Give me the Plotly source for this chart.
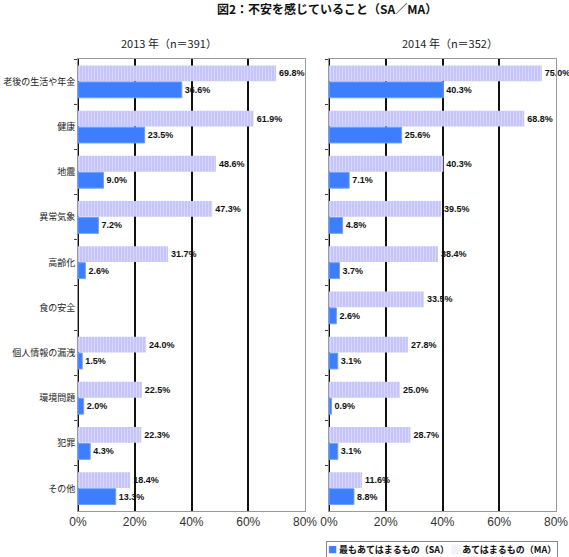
import plotly.graph_objects as go

categories = ["老後の生活や年金", "健康", "地震", "異常気象", "高齢化", "食の安全",
              "個人情報の漏洩", "環境問題", "犯罪", "その他"]
ma_2013 = [69.8, 61.9, 48.6, 47.3, 31.7, None, 24.0, 22.5, 22.3, 18.4]
sa_2013 = [36.6, 23.5, 9.0, 7.2, 2.6, None, 1.5, 2.0, 4.3, 13.3]
ma_2014 = [75.0, 68.8, 40.3, 39.5, 38.4, 33.5, 27.8, 25.0, 28.7, 11.6]
sa_2014 = [40.3, 25.6, 7.1, 4.8, 3.7, 2.6, 3.1, 0.9, 3.1, 8.8]
x_ticks = [0, 20, 40, 60, 80]
x_tick_labels = ["0%", "20%", "40%", "60%", "80%"]
grid_vals = [20, 40, 60]

title_text = "図2：不安を感じていること（SA／MA）"
panel_titles = ["2013 年（n＝391）", "2014 年（n＝352）"]
sa_name = "最もあてはまるもの（SA）"
ma_name = "あてはまるもの（MA）"

JP = "Noto Sans CJK JP, sans-serif"
NUM = "Liberation Sans, Arial, sans-serif"

MA_BG = "#c3c3fa"
MA_FG = "#ececff"
SA_COL = "#3d7eff"
SA_LINE = "#6e9fff"

fig = go.Figure()


def add_pair(ma, sa, xa, ya):
    fig.add_trace(go.Bar(
        x=ma, y=categories, orientation="h", name=ma_name,
        xaxis=xa, yaxis=ya, showlegend=False,
        marker=dict(color=MA_BG, line=dict(width=0),
                    pattern=dict(shape="|", bgcolor=MA_BG, fgcolor=MA_FG,
                                 size=3, solidity=0.4)),
        texttemplate="%{x:.1f}%", textposition="outside", cliponaxis=False,
        textfont=dict(family=NUM, size=9, color="#111111", weight="bold"),
    ))
    fig.add_trace(go.Bar(
        x=sa, y=categories, orientation="h", name=sa_name,
        xaxis=xa, yaxis=ya, showlegend=False,
        marker=dict(color=SA_COL, line=dict(width=1, color=SA_LINE)),
        texttemplate="%{x:.1f}%", textposition="outside", cliponaxis=False,
        textfont=dict(family=NUM, size=9, color="#111111", weight="bold"),
    ))


add_pair(ma_2013, sa_2013, "x", "y")
add_pair(ma_2014, sa_2014, "x2", "y2")

W, H = 569, 557
y_dom = [1 - 511 / H, 1 - 59 / H]
xd1 = [78 / W, 305 / W]
xd2 = [329 / W, 556 / W]

xcommon = dict(range=[0, 80], tickvals=x_ticks, ticktext=x_tick_labels,
               showgrid=False,
               minor=dict(tickvals=grid_vals, showgrid=True, gridcolor="#111111",
                          gridwidth=1.5, ticks=""),
               zeroline=True, zerolinecolor="#111111", zerolinewidth=1.5,
               showline=True, linecolor="#9a9a9a", linewidth=1, mirror=True,
               ticks="", tickfont=dict(family=NUM, size=12, color="#333333"),
               automargin=False, fixedrange=True)
ycommon = dict(type="category", categoryorder="array", categoryarray=categories,
               autorange="reversed", showgrid=False, zeroline=False,
               showline=True, linecolor="#9a9a9a", linewidth=1, mirror=True,
               ticks="outside", tickson="boundaries", ticklen=3,
               tickcolor="#444444", automargin=False, fixedrange=True)

legend_text = (f"<span style='color:{SA_COL}'>■</span> {sa_name} "
               f"<span style='color:{MA_BG}'>▒</span> {ma_name}")

fig.update_layout(
    width=W, height=H,
    margin=dict(l=0, r=0, t=0, b=0, autoexpand=False),
    paper_bgcolor="white", plot_bgcolor="white",
    barmode="group", bargap=0.27, bargroupgap=0.04,
    xaxis=dict(domain=xd1, anchor="y", **xcommon),
    yaxis=dict(domain=y_dom, anchor="x", showticklabels=True,
               tickfont=dict(family=JP, size=9, color="#222222"), **ycommon),
    xaxis2=dict(domain=xd2, anchor="y2", **xcommon),
    yaxis2=dict(domain=y_dom, anchor="x2", showticklabels=False, **ycommon),
    showlegend=False,
    annotations=[
        dict(text=title_text, x=327 / W, y=1 - 9 / H, xref="paper", yref="paper",
             showarrow=False, xanchor="center", yanchor="middle",
             font=dict(family=JP, size=12, color="#111111", weight="bold")),
        dict(text=panel_titles[0], x=169 / W, y=1 - 43 / H, xref="paper", yref="paper",
             showarrow=False, xanchor="center", yanchor="middle",
             font=dict(family=JP, size=11, color="#222222")),
        dict(text=panel_titles[1], x=450 / W, y=1 - 43 / H, xref="paper", yref="paper",
             showarrow=False, xanchor="center", yanchor="middle",
             font=dict(family=JP, size=11, color="#222222")),
        dict(text=legend_text, x=558 / W, y=1 - 549 / H, xref="paper", yref="paper",
             showarrow=False, xanchor="right", yanchor="middle",
             bordercolor="#888888", borderwidth=1, borderpad=1, bgcolor="white",
             font=dict(family=JP, size=9, color="#111111", weight="bold")),
    ],
)

fig.write_html(
    "out.html",
    config={"displayModeBar": False},
    post_script="document.body.style.margin='0';document.body.style.overflow='hidden';",
)
